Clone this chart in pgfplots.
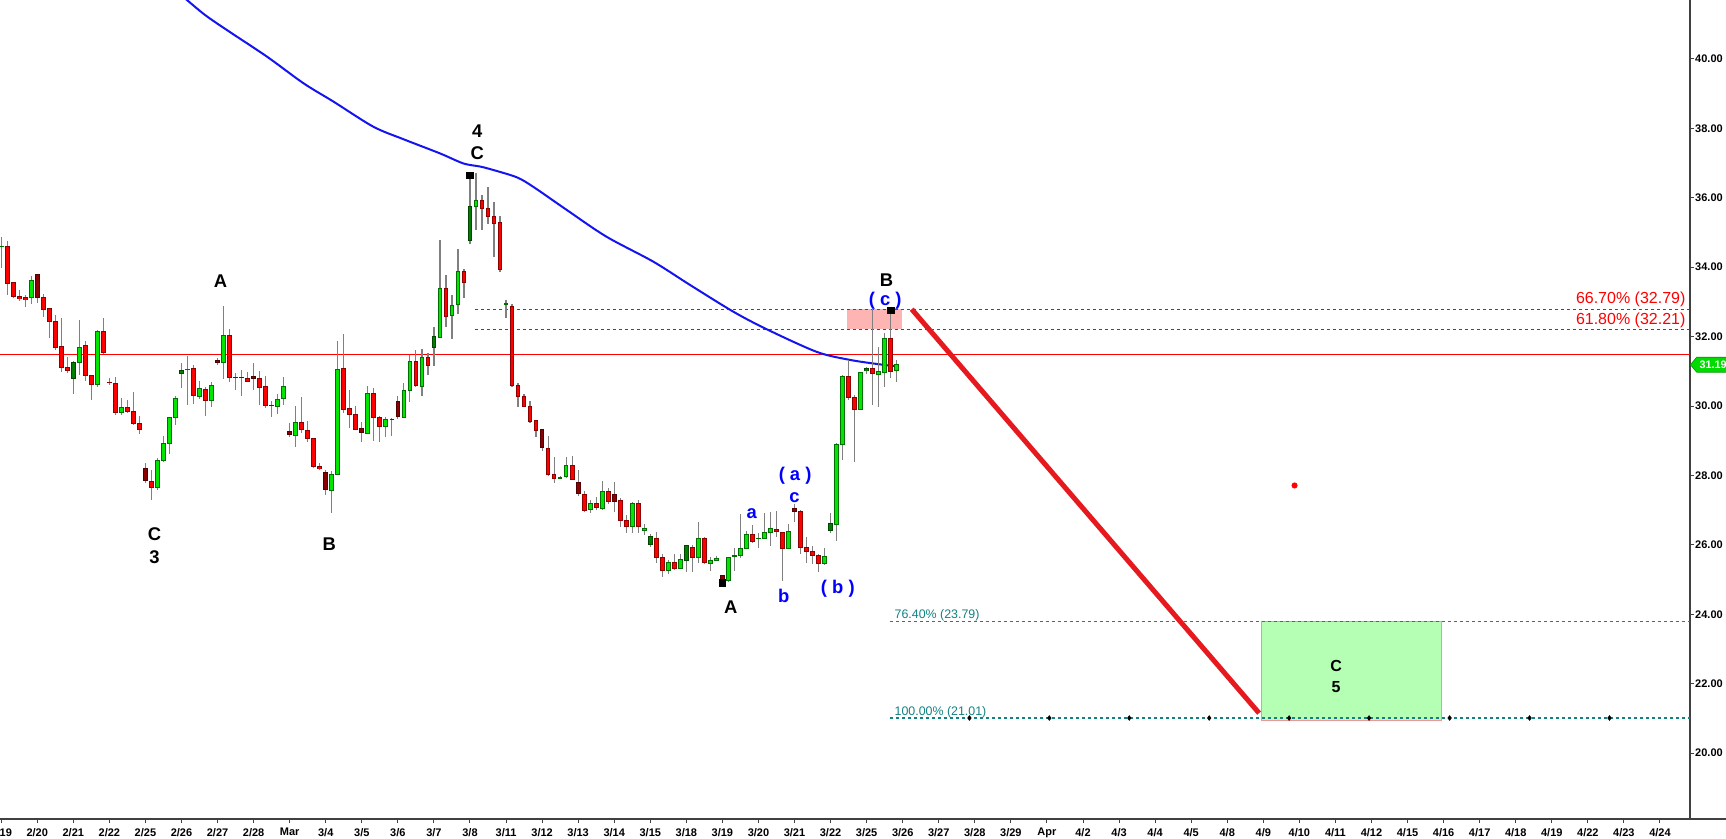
\documentclass[border=0pt]{standalone}
\usepackage{fontspec}
\setmainfont{Liberation Sans}
\usepackage{pgfplots}
\usepackage{pgfplotstable}
\pgfplotsset{compat=1.18}
\usetikzlibrary{shapes.symbols}

\definecolor{upfill}{RGB}{0,230,0}
\definecolor{upedge}{RGB}{0,110,0}
\definecolor{dnfill}{RGB}{255,0,0}
\definecolor{dnedge}{RGB}{140,0,0}
\definecolor{dkupfill}{RGB}{0,128,0}
\definecolor{dkupedge}{RGB}{0,70,0}
\definecolor{dkdnfill}{RGB}{139,0,0}
\definecolor{dkdnedge}{RGB}{80,0,0}
\definecolor{wick}{RGB}{128,128,128}
\definecolor{mablue}{RGB}{20,20,240}
\definecolor{fibteal}{RGB}{20,130,130}
\definecolor{pinkbox}{RGB}{255,180,180}
\definecolor{greenbox}{RGB}{180,255,180}
\definecolor{axisgray}{RGB}{64,64,64}
\definecolor{pricegreen}{RGB}{0,220,0}

\newcommand\wave{\bfseries\fontsize{9.2}{10}\selectfont}

% hourly bars, 6 per day; t: 0 up, 1 down, 2 up first bar of day, 3 down first bar of day
\pgfplotstableread{
k o h l c t
0 34.60 34.88 33.97 34.61 0
1 34.60 34.76 33.21 33.53 1
2 33.56 33.58 33.10 33.15 1
3 33.16 33.34 33.03 33.09 1
4 33.13 33.20 32.86 33.06 1
5 33.12 33.75 32.94 33.62 0
6 33.80 33.80 32.98 33.12 3
7 33.13 33.22 32.57 32.77 1
8 32.80 32.83 31.97 32.43 1
9 32.44 32.62 31.61 31.68 1
10 31.72 32.54 30.98 31.10 1
11 31.11 31.40 30.94 31.02 1
12 30.79 31.30 30.36 31.26 2
13 31.25 32.48 30.89 31.69 0
14 31.73 31.86 30.72 30.88 1
15 30.88 30.88 30.17 30.62 1
16 30.62 32.19 30.56 32.16 0
17 32.16 32.54 31.50 31.54 1
18 30.69 30.80 30.60 30.67 1
19 30.65 30.83 29.74 29.82 1
20 29.82 30.23 29.74 29.96 0
21 29.96 30.17 29.79 29.84 1
22 29.85 30.39 29.44 29.50 1
23 29.50 29.71 29.19 29.32 1
24 28.21 28.35 27.79 27.85 3
25 27.83 28.17 27.29 27.65 1
26 27.66 28.49 27.58 28.43 0
27 28.43 29.14 28.39 28.92 0
28 28.91 29.67 28.62 29.67 0
29 29.66 30.29 29.44 30.22 0
30 30.93 31.24 30.53 31.02 2
31 31.05 31.44 30.04 31.06 0
32 31.09 31.18 30.07 30.30 1
33 30.26 30.72 30.19 30.51 0
34 30.48 30.56 29.71 30.15 1
35 30.15 30.70 29.97 30.60 0
36 31.32 31.39 31.18 31.25 3
37 31.25 32.88 30.79 32.02 0
38 32.02 32.23 30.69 30.82 1
39 30.83 30.96 30.46 30.82 1
40 30.83 31.05 30.30 30.82 1
41 30.80 30.98 30.69 30.72 1
42 30.86 31.24 30.46 30.79 3
43 30.80 31.01 30.03 30.53 1
44 30.57 30.86 29.94 30.01 1
45 30.02 30.14 29.69 30.01 1
46 29.98 30.35 29.78 30.19 0
47 30.22 30.84 30.04 30.57 0
48 29.27 29.50 29.10 29.18 3
49 29.15 30.00 28.83 29.53 0
50 29.53 30.26 29.23 29.31 1
51 29.30 29.58 28.95 29.06 1
52 29.05 29.05 28.20 28.25 1
53 28.26 28.35 28.16 28.19 1
54 28.08 28.16 27.44 27.59 3
55 27.57 28.13 26.91 28.04 0
56 28.03 31.87 28.01 31.06 0
57 31.09 32.08 29.81 29.90 1
58 29.93 30.46 29.36 29.75 1
59 29.76 30.00 29.31 29.33 1
60 29.36 29.53 28.97 29.23 3
61 29.21 30.57 29.19 30.37 0
62 30.37 30.52 29.00 29.67 1
63 29.67 29.72 28.96 29.40 1
64 29.42 29.69 29.12 29.62 0
65 29.62 29.65 29.15 29.61 1
66 30.14 30.28 29.62 29.69 3
67 29.67 30.65 29.65 30.46 0
68 30.46 31.48 30.13 31.29 0
69 31.29 31.61 30.54 30.60 1
70 30.57 31.63 30.29 31.40 0
71 31.40 31.53 30.89 31.17 1
72 31.69 32.29 31.15 32.00 2
73 31.97 34.77 31.95 33.39 0
74 33.39 33.77 32.29 32.57 1
75 32.61 33.19 31.94 32.90 0
76 32.93 34.52 32.65 33.87 0
77 33.87 33.94 33.12 33.56 1
78 34.77 36.65 34.67 35.76 2
79 35.76 36.71 35.07 35.92 0
80 35.93 36.07 35.07 35.69 1
81 35.69 36.31 35.25 35.47 1
82 35.47 35.87 34.30 35.26 1
83 35.29 35.47 33.87 33.94 1
84 32.93 33.06 32.55 32.94 0
85 32.87 32.93 30.56 30.59 1
86 30.60 30.65 29.98 30.27 1
87 30.28 30.35 29.96 29.98 1
88 29.99 30.14 29.52 29.55 1
89 29.57 29.61 29.10 29.29 1
90 29.33 29.33 28.69 28.80 3
91 28.78 29.14 27.98 28.03 1
92 28.03 28.54 27.77 27.92 1
93 27.93 27.97 27.91 27.94 0
94 27.96 28.52 27.92 28.29 0
95 28.29 28.56 27.87 27.89 1
96 27.81 28.16 27.41 27.48 3
97 27.46 27.54 26.96 27.00 1
98 27.01 27.30 26.91 27.20 0
99 27.20 27.39 26.99 27.07 1
100 27.05 27.84 27.00 27.55 0
101 27.55 27.65 27.19 27.24 1
102 27.44 27.82 26.95 27.24 3
103 27.29 27.34 26.52 26.71 1
104 26.71 26.86 26.35 26.52 1
105 26.52 27.24 26.35 27.19 0
106 27.19 27.29 26.35 26.52 1
107 26.42 26.60 26.28 26.47 0
108 26.00 26.30 25.95 26.23 2
109 26.19 26.38 25.47 25.64 1
110 25.64 25.73 25.06 25.26 1
111 25.26 25.56 25.16 25.50 0
112 25.50 25.73 25.27 25.32 1
113 25.32 25.75 25.29 25.58 0
114 25.54 25.97 25.23 25.97 2
115 25.93 26.00 25.23 25.64 1
116 25.64 26.65 25.48 26.19 0
117 26.19 26.23 25.45 25.48 1
118 25.47 25.66 25.26 25.54 0
119 25.56 25.68 25.54 25.61 0
120 25.11 25.14 24.93 24.98 3
121 24.98 25.66 24.94 25.64 0
122 25.68 25.90 25.26 25.69 0
123 25.68 26.89 25.61 25.90 0
124 25.90 26.41 25.87 26.31 0
125 26.31 26.58 26.04 26.09 1
126 26.18 26.33 25.90 26.19 0
127 26.19 26.93 26.16 26.36 0
128 26.36 26.95 25.97 26.46 0
129 26.45 26.98 26.23 26.38 1
130 26.35 26.38 24.97 25.90 1
131 25.90 26.60 25.87 26.37 0
132 27.06 27.18 26.67 26.97 3
133 26.97 27.00 25.75 25.93 1
134 25.93 26.22 25.47 25.81 1
135 25.81 25.97 25.45 25.69 1
136 25.70 25.73 25.23 25.47 1
137 25.47 25.90 25.42 25.66 0
138 26.40 26.93 26.33 26.62 2
139 26.59 28.92 26.12 28.89 0
140 28.89 30.89 28.44 30.85 0
141 30.85 31.32 30.17 30.25 1
142 30.25 30.32 28.40 29.90 1
143 29.90 30.99 29.88 30.97 0
144 31.02 31.11 30.92 31.07 2
145 31.09 32.79 30.03 30.93 1
146 30.92 31.71 29.98 30.99 0
147 30.97 32.09 30.56 31.95 0
148 31.95 32.76 30.80 30.99 1
149 31.02 31.33 30.70 31.19 0
}\candles

\pgfplotsset{
  body/.style n args={3}{draw=none, mark=none,
    restrict expr to domain={\thisrow{t}}{#1:#1},
    error bars/.cd, y dir=both, y explicit, error mark=none,
    error bar style={line width=#2, draw=#3}},
}

\begin{document}
\begin{tikzpicture}
\begin{axis}[
  at={(0,10pt)}, anchor=south west,
  scale only axis, width=845pt, height=409.5pt,
  xmin=-0.2, xmax=281, ymin=18.10, ymax=41.70,
  axis x line*=bottom, axis y line*=right,
  axis line style={draw=axisgray, line width=0.6pt, -},
  xtick={0,6,...,276},
  xticklabels={2/19,2/20,2/21,2/22,2/25,2/26,2/27,2/28,Mar,3/4,3/5,3/6,3/7,3/8,3/11,3/12,3/13,3/14,3/15,3/18,3/19,3/20,3/21,3/22,3/25,3/26,3/27,3/28,3/29,Apr,4/2,4/3,4/4,4/5,4/8,4/9,4/10,4/11,4/12,4/15,4/16,4/17,4/18,4/19,4/22,4/23,4/24},
  ytick={20,22,...,40},
  tick align=outside, major tick length=2pt,
  tick style={draw=axisgray, line width=0.5pt},
  ticklabel style={font=\bfseries\fontsize{5.5}{6}\selectfont, text=black},
  xticklabel style={yshift=1pt},
  yticklabel style={inner xsep=0.4pt, /pgf/number format/.cd, fixed, fixed zerofill, precision=2, assume math mode=true},
]
% target zones
\addplot[fill=pinkbox, draw=none] coordinates {(140.7,32.21) (149.8,32.21) (149.8,32.79) (140.7,32.79)} -- cycle;
\addplot[fill=greenbox, draw={rgb,255:red,240;green,150;blue,150}, line width=0.4pt] coordinates {(209.7,20.95) (239.7,20.95) (239.7,23.79) (209.7,23.79)} -- cycle;

% levels
\addplot[red, line width=0.6pt] coordinates {(-0.2,31.49) (281,31.49)};
\addplot[red, line width=0.55pt, dash pattern=on 1.5pt off 1.5pt] coordinates {(78.8,32.79) (281,32.79)};
\addplot[red, line width=0.55pt, dash pattern=on 1.5pt off 1.5pt] coordinates {(78.8,32.21) (281,32.21)};
\addplot[fibteal, line width=0.55pt, dash pattern=on 1.5pt off 1.5pt] coordinates {(147.9,23.79) (281,23.79)};
\addplot[fibteal, line width=0.55pt, dash pattern=on 1.5pt off 1.5pt] coordinates {(147.9,21.01) (281,21.01)};
\addplot[only marks, mark=diamond*, mark size=1.1pt, black] coordinates {(161.1,21.01) (174.4,21.01) (187.7,21.01) (201.0,21.01) (214.3,21.01) (227.6,21.01) (241.0,21.01) (254.3,21.01) (267.6,21.01)};

% moving average
\addplot[mablue, line width=1pt, smooth] coordinates {
(29.5,41.90) (30.9,41.70) (33.9,41.27) (37.5,40.84) (44.2,40.07) (50.3,39.30) (55.3,38.77)
(61.9,38.05) (66.9,37.69) (73.0,37.28) (76.9,36.99) (79.7,36.90) (81.9,36.80) (85.8,36.59)
(88.5,36.32) (94.1,35.65) (100.7,34.88) (108.5,34.16) (114.6,33.49) (121.8,32.72) (127.4,32.21)
(135.7,31.56) (141.2,31.33) (146.2,31.20) (148.8,31.15)};

% candles: wicks, then bodies (edge then fill)
\addplot[draw=none, mark=none, error bars/.cd, y dir=both, y explicit, error mark=none,
  error bar style={line width=0.6pt, draw=wick}]
  table[x=k, y expr={(\thisrow{h}+\thisrow{l})/2}, y error expr={(\thisrow{h}-\thisrow{l})/2}] {\candles};
\addplot[body={0}{2.35pt}{upedge}] table[x=k, y expr={(\thisrow{o}+\thisrow{c})/2}, y error expr={abs(\thisrow{c}-\thisrow{o})/2+0.0144}] {\candles};
\addplot[body={0}{1.35pt}{upfill}] table[x=k, y expr={(\thisrow{o}+\thisrow{c})/2}, y error expr={max(abs(\thisrow{c}-\thisrow{o})/2-0.0144,0)}] {\candles};
\addplot[body={1}{2.35pt}{dnedge}] table[x=k, y expr={(\thisrow{o}+\thisrow{c})/2}, y error expr={abs(\thisrow{c}-\thisrow{o})/2+0.0144}] {\candles};
\addplot[body={1}{1.35pt}{dnfill}] table[x=k, y expr={(\thisrow{o}+\thisrow{c})/2}, y error expr={max(abs(\thisrow{c}-\thisrow{o})/2-0.0144,0)}] {\candles};
\addplot[body={2}{2.35pt}{dkupedge}] table[x=k, y expr={(\thisrow{o}+\thisrow{c})/2}, y error expr={abs(\thisrow{c}-\thisrow{o})/2+0.0144}] {\candles};
\addplot[body={2}{1.35pt}{dkupfill}] table[x=k, y expr={(\thisrow{o}+\thisrow{c})/2}, y error expr={max(abs(\thisrow{c}-\thisrow{o})/2-0.0144,0)}] {\candles};
\addplot[body={3}{2.35pt}{dkdnedge}] table[x=k, y expr={(\thisrow{o}+\thisrow{c})/2}, y error expr={abs(\thisrow{c}-\thisrow{o})/2+0.0144}] {\candles};
\addplot[body={3}{1.35pt}{dkdnfill}] table[x=k, y expr={(\thisrow{o}+\thisrow{c})/2}, y error expr={max(abs(\thisrow{c}-\thisrow{o})/2-0.0144,0)}] {\candles};

% pivots and projection
\addplot[only marks, mark=square*, mark size=1.65pt, black] coordinates {(78,36.65) (120,24.90) (148,32.76)};
\addplot[only marks, mark=*, mark size=1.3pt, red] coordinates {(215.2,27.71)};
\addplot[color={rgb,255:red,230;green,25;blue,30}, line width=2.5pt] coordinates {(151.5,32.79) (209.3,21.15)};

% wave labels
\node[font=\wave] at (axis cs:36.5,33.60) {A};
\node[font=\wave] at (axis cs:25.5,26.31) {C};
\node[font=\wave] at (axis cs:25.5,25.65) {3};
\node[font=\wave] at (axis cs:54.6,26.02) {B};
\node[font=\wave] at (axis cs:79.2,37.92) {4};
\node[font=\wave] at (axis cs:79.2,37.28) {C};
\node[font=\wave] at (axis cs:121.4,24.19) {A};
\node[font=\wave, text=blue] at (axis cs:124.9,26.91) {a};
\node[font=\wave, text=blue] at (axis cs:132.0,27.37) {c};
\node[font=\wave, text=blue] at (axis cs:132.1,27.99) {( a )};
\node[font=\wave, text=blue] at (axis cs:130.2,24.52) {b};
\node[font=\wave, text=blue] at (axis cs:139.2,24.73) {( b )};
\node[font=\wave] at (axis cs:147.3,33.63) {B};
\node[font=\wave, text=blue] at (axis cs:147.1,33.03) {( c )};
\node[font=\bfseries\fontsize{8}{9}\selectfont] at (axis cs:222.1,22.52) {C};
\node[font=\bfseries\fontsize{8}{9}\selectfont] at (axis cs:222.1,21.89) {5};

% fibonacci labels
\node[anchor=base east, inner sep=0pt, text=red, font=\fontsize{8}{9}\selectfont] at ([yshift=2.7pt]axis cs:280.3,32.79) {66.70\% (32.79)};
\node[anchor=base east, inner sep=0pt, text=red, font=\fontsize{8}{9}\selectfont] at ([yshift=2.5pt]axis cs:280.3,32.21) {61.80\% (32.21)};
\node[anchor=base west, inner sep=0pt, text=fibteal, font=\fontsize{6.2}{7}\selectfont] at ([yshift=1.5pt]axis cs:148.6,23.79) {76.40\% (23.79)};
\node[anchor=base west, inner sep=0pt, text=fibteal, font=\fontsize{6.2}{7}\selectfont] at ([yshift=1.5pt]axis cs:148.6,21.01) {100.00\% (21.01)};

\coordinate (br) at (rel axis cs:1,0);
\coordinate (lastp) at (axis cs:281,31.19);
\end{axis}
\draw[axisgray, line width=0.6pt] (br) -- ++(20pt,0);
\node[signal, signal to=west, signal pointer angle=100, fill=pricegreen, draw={rgb,255:red,0;green,150;blue,0}, line width=0.3pt,
  text=white, font=\bfseries\fontsize{5.4}{6}\selectfont, inner xsep=1.5pt, inner ysep=1pt, minimum height=7.5pt, anchor=west]
  at (lastp) {31.19};
\pgfresetboundingbox
\useasboundingbox (0,0) rectangle (863pt,419.5pt);
\end{tikzpicture}
\end{document}
